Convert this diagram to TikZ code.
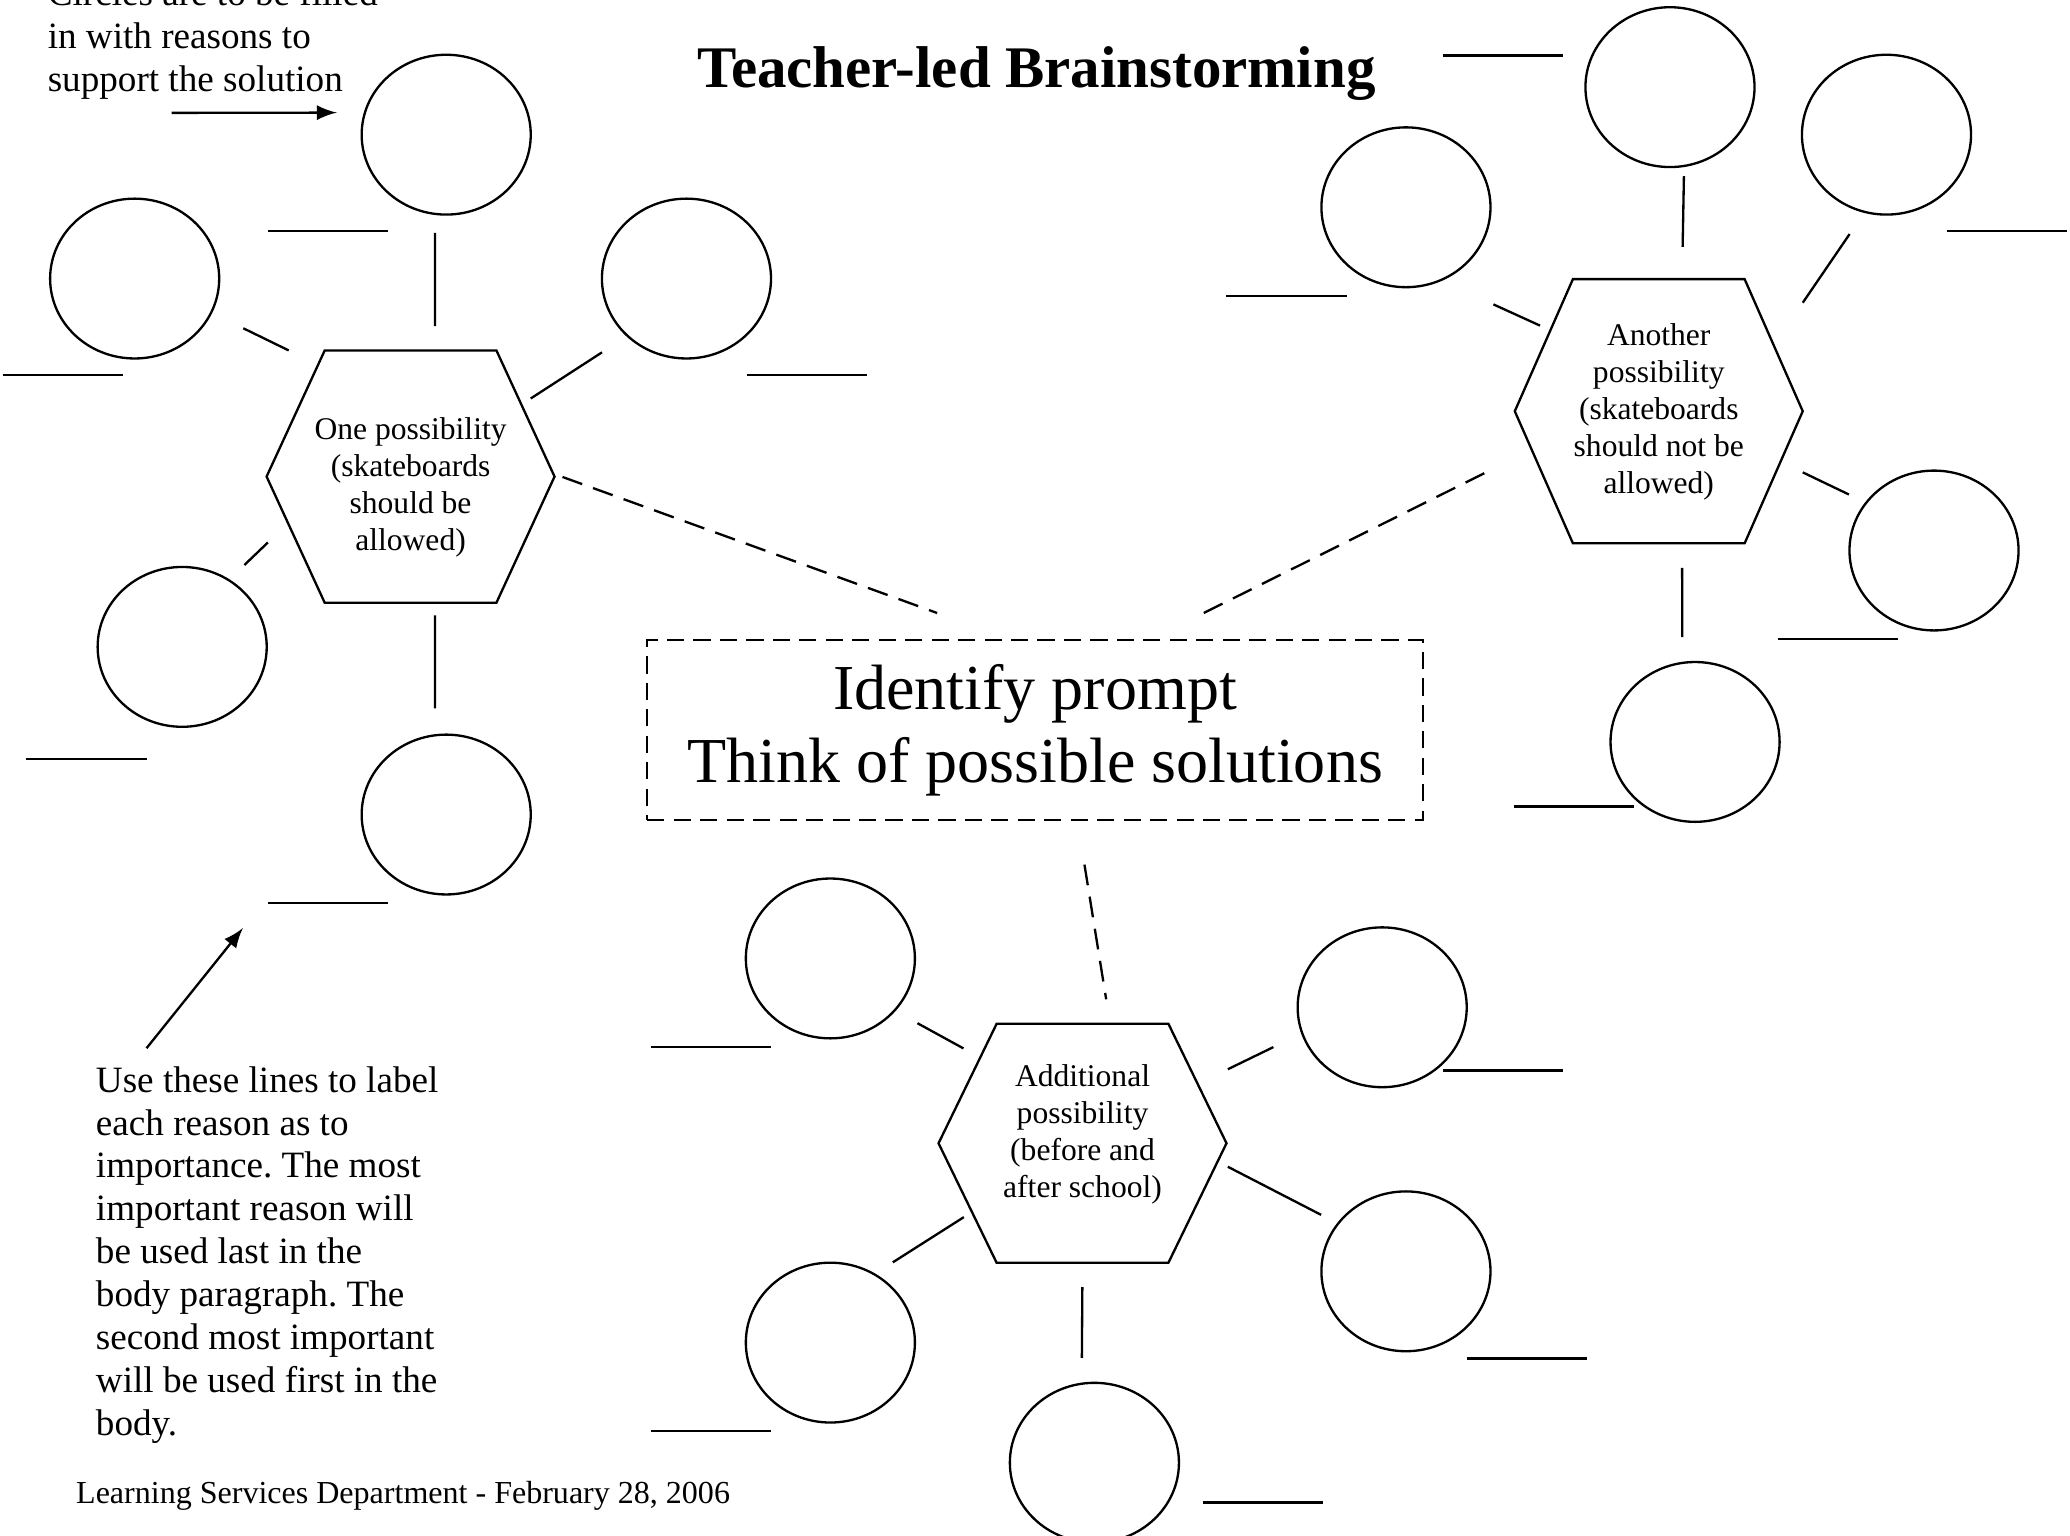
\documentclass[tikz,border=0pt]{standalone}
\usepackage{fontspec}
\setmainfont{Liberation Serif}
\usepackage{tikz}
\usetikzlibrary{arrows,shapes}
\frenchspacing

\begin{document}
\begin{tikzpicture}
            [
            x=0.01cm, y=-0.01cm,
            reason/.style={ellipse,draw,line width=0.5pt,minimum width=1.28cm,minimum height=1.21cm},
            hexbox/.style={rectangle,inner sep=0pt,outer sep=0pt,minimum width=2.18cm},
            hextext/.style={align=center,inner sep=0pt,font=\fontsize{6.8}{7.97}\selectfont},
            hexline/.style={line width=0.5pt},
            note/.style={align=left,inner sep=0pt,anchor=north west,font=\fontsize{8}{9.25}\selectfont},
            spoke/.style={line width=0.5pt},
            blank/.style={line width=0.5pt},
            link/.style={line width=0.5pt,dash pattern=on 4.5pt off 2.5pt},
            pointer/.style={->,>=latex,line width=0.5pt}
            ]
        \useasboundingbox (0,0) rectangle (1568,1163);

        \node[anchor=base,font=\bfseries\fontsize{12.7}{15}\selectfont] (title) at (785,66) {Teacher-led Brainstorming};
        \node[note] (n1) at (35.5,-16) {Circles are to be filled\\in with reasons to\\support the solution};
        \node[note] (n2) at (72,807) {Use these lines to label\\each reason as to\\importance. The most\\important reason will\\be used last in the\\body paragraph. The\\second most important\\will be used first in the\\body.};
        \node[anchor=base west,inner sep=0pt,font=\fontsize{6.9}{8}\selectfont] (foot) at (57,1138.5) {Learning Services Department - February 28, 2006};

        \node[draw,line width=0.5pt,dash pattern=on 3.7pt off 2pt,minimum width=5.87cm,minimum height=1.36cm,
              align=center,font=\fontsize{13.8}{15.8}\selectfont] (prompt) at (784,553) {Identify prompt\\Think of possible solutions};

        \node[hexbox,minimum height=1.91cm] (h1) at (311,361) {};
        \node[hexbox,minimum height=2.00cm] (h2) at (1256.5,311.5) {};
        \node[hexbox,minimum height=1.81cm] (h3) at (820,866) {};
        \draw[hexline] (h1.west) -- ([xshift=0.44cm]h1.north west) -- ([xshift=-0.44cm]h1.north east) -- (h1.east)
            -- ([xshift=-0.44cm]h1.south east) -- ([xshift=0.44cm]h1.south west) -- cycle;
        \draw[hexline] (h2.west) -- ([xshift=0.44cm]h2.north west) -- ([xshift=-0.44cm]h2.north east) -- (h2.east)
            -- ([xshift=-0.44cm]h2.south east) -- ([xshift=0.44cm]h2.south west) -- cycle;
        \draw[hexline] (h3.west) -- ([xshift=0.44cm]h3.north west) -- ([xshift=-0.44cm]h3.north east) -- (h3.east)
            -- ([xshift=-0.44cm]h3.south east) -- ([xshift=0.44cm]h3.south west) -- cycle;
        \node[hextext] (t1) at (311,369) {One possibility\\(skateboards\\should be\\allowed)};
        \node[hextext] (t2) at (1256.5,312) {Another\\possibility\\(skateboards\\should not be\\allowed)};
        \node[hextext] (t3) at (820,859) {Additional\\possibility\\(before and\\after school)};

        \node[reason] (c1a) at (338,102) {};
        \node[reason] (c1b) at (102,211) {};
        \node[reason] (c1c) at (520,211) {};
        \node[reason] (c1d) at (138,490) {};
        \node[reason] (c1e) at (338,617) {};
        \node[reason] (c2a) at (1265,66) {};
        \node[reason] (c2b) at (1065,157) {};
        \node[reason] (c2c) at (1429,102) {};
        \node[reason] (c2d) at (1465,417) {};
        \node[reason] (c2e) at (1284,562) {};
        \node[reason] (c3a) at (629,726) {};
        \node[reason] (c3b) at (1047,763) {};
        \node[reason] (c3c) at (1065,963) {};
        \node[reason] (c3d) at (629,1017) {};
        \node[reason] (c3e) at (829,1108) {};

        \draw[spoke,shorten <=0.135cm,shorten >=0.185cm] (c1a.-98) -- (h1.79);
        \draw[spoke,shorten <=0.262cm] (c1b.-24) -- (h1.134);
        \draw[spoke,shorten <=0.221cm,shorten >=-0.215cm] (c1c.-136) -- (h1.33);
        \draw[spoke,shorten <=0.156cm,shorten >=-0.014cm] (c1d.55) -- (h1.205);
        \draw[spoke,shorten <=0.195cm,shorten >=0.095cm] (c1e.98) -- (h1.-79);
        \draw[spoke,shorten <=0.068cm,shorten >=0.245cm] (c2a.-80) -- (h2.80);
        \draw[spoke,shorten <=0.429cm,shorten >=-0.21cm] (c2b.-64) -- (h2.146);
        \draw[spoke,shorten <=0.194cm] (c2c.-106) -- (h2.37);
        \draw[spoke,shorten <=0.136cm] (c2d.145) -- (h2.-23);
        \draw[spoke,shorten <=0.186cm,shorten >=0.185cm] (c2e.99) -- (h2.-80);
        \draw[spoke,shorten <=0.19cm,shorten >=-0.215cm] (c3a.-39) -- (h3.143);
        \draw[spoke,shorten <=0.234cm,shorten >=0.011cm] (c3b.-162) -- (h3.27);
        \draw[spoke,shorten <=0.136cm,shorten >=0.011cm] (c3c.145) -- (h3.-9);
        \draw[spoke,shorten <=0.158cm,shorten >=-0.227cm] (c3d.57) -- (h3.-148);
        \draw[spoke,shorten <=0.186cm,shorten >=0.185cm] (c3e.99) -- (h3.-90);

        \draw[link,shorten <=0.064cm,shorten >=0.578cm] (h1.1) -- (prompt.106);
        \draw[link,shorten <=0.258cm,shorten >=0.442cm] (h2.-162) -- (prompt.38);
        \draw[link,shorten <=0.334cm,shorten >=0.187cm] (prompt.-65) -- (h3.77);

        \draw[blank] (203,175) -- ++(91,0);
        \draw[blank] (2,284) -- ++(91,0);
        \draw[blank] (566,284) -- ++(91,0);
        \draw[blank] (20,575) -- ++(91,0);
        \draw[blank] (203,684) -- ++(91,0);
        \draw[blank] (1093,42) -- ++(91,0);
        \draw[blank] (929,224) -- ++(91,0);
        \draw[blank] (1475,175) -- ++(91,0);
        \draw[blank] (1347,484) -- ++(91,0);
        \draw[blank] (1147,611) -- ++(91,0);
        \draw[blank] (493,793) -- ++(91,0);
        \draw[blank] (1093,811) -- ++(91,0);
        \draw[blank] (1111,1029) -- ++(91,0);
        \draw[blank] (493,1084) -- ++(91,0);
        \draw[blank] (911,1138) -- ++(91,0);

        \coordinate (from1) at (130,85.5);
        \coordinate (from2) at (111,794);
        \coordinate (to2) at (184,703);
        \draw[pointer,shorten >=0.204cm] (from1) -- (c1a.165);
        \draw[pointer] (from2) -- (to2);
        \end{tikzpicture}
\end{document}
